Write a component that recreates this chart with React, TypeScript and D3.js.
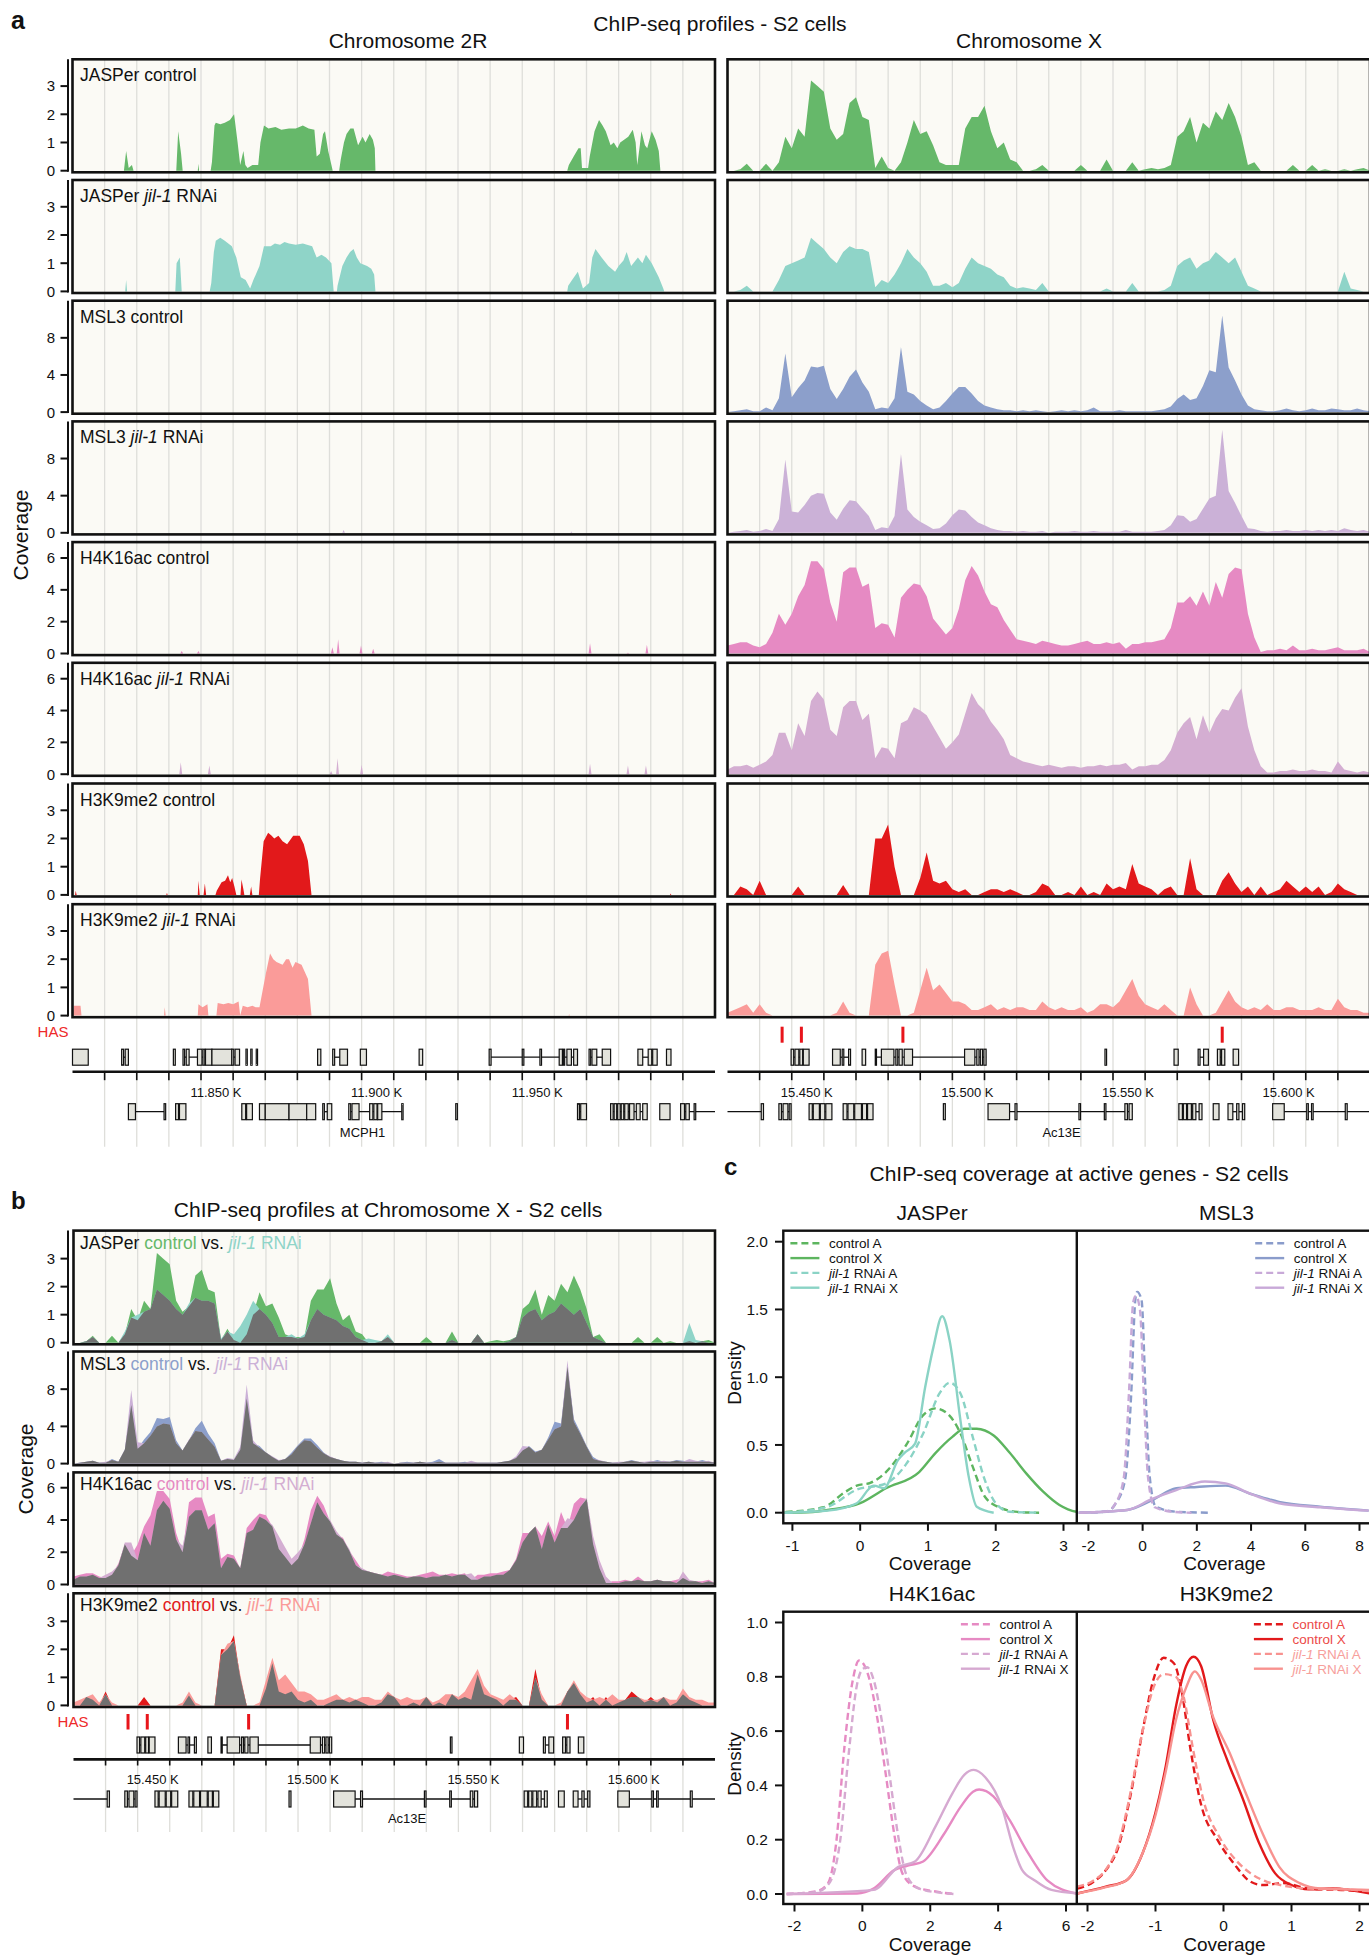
import React from 'react';
import * as d3 from 'd3';

const FONT = '"Liberation Sans", Arial, Helvetica, sans-serif';

// ---------------- genomic windows (kb) ----------------
const chr2RWindow = [11810, 12010];
const chrXWindow = [15430, 15630];
const chrXStep = 2;
const chr2RLabelTicks = [11850, 11900, 11950];
const chrXLabelTicks = [15450, 15500, 15550, 15600];
const hasSites = [15447, 15453, 15484.6, 15584];

const marks = ['JASPer', 'MSL3', 'H4K16ac', 'H3K9me2'];
const markMax = [3.95, 12, 7, 3.95];
const markTicks = [[0, 1, 2, 3], [0, 4, 8], [0, 2, 4, 6], [0, 1, 2, 3]];

// ---------------- chromosome 2R profiles: [kb, coverage] ----------------
const jasperCtrl2R = [[11810,0],[11826,0],[11826.7,0.7],[11827.5,0.1],[11828.5,0.2],[11829,0],
[11842.3,0],[11842.9,1.4],[11843.8,0.6],[11844.3,0],[11849,0],[11849.2,0.25],[11849.4,0],
[11853,0],[11853.4,0.3],[11854.2,1.6],[11854.6,1.7],[11856,1.65],[11857.4,1.7],[11859,1.8],[11860.3,2.0],[11861.4,1.0],[11862.2,0.2],[11863.2,0.7],[11863.8,0.2],[11864.5,0.1],[11866,0.2],[11867.8,0.2],[11868.5,1.0],[11869.6,1.6],[11871,1.5],[11873.2,1.55],[11875,1.45],[11877.4,1.5],[11879.5,1.5],[11881.7,1.6],[11883.5,1.5],[11885.3,1.45],[11886,0.5],[11887,0.6],[11888,1.3],[11888.6,1.4],[11889.6,0.7],[11890.6,0.2],[11891,0],
[11893,0],[11893.5,0.4],[11894.5,1.0],[11895.3,1.3],[11896.5,1.5],[11897.5,1.5],[11898.9,0.9],[11900.3,1.2],[11901.2,1.0],[11902.5,1.3],[11903.5,1.1],[11904.1,0.8],[11904.3,0],
[11964,0],[11964.5,0.2],[11966,0.5],[11967.5,0.8],[11968.2,0.8],[11968.6,0.1],[11970.5,0.1],[11971,0.5],[11972.5,1.4],[11973.9,1.8],[11975,1.6],[11976,1.4],[11977.5,0.9],[11978.5,1.0],[11979.6,0.8],[11980.5,1.0],[11981.7,1.1],[11983,1.2],[11984.4,1.45],[11985.3,1.0],[11985.8,0.2],[11986.6,0.9],[11987.1,1.4],[11988.2,0.9],[11988.9,0.8],[11990.3,1.4],[11991.5,1.1],[11992.5,0.7],[11993,0],[12010,0]];

const jasperRnai2R = [[11810,0],[11826.4,0],[11826.7,0.4],[11827,0],[11842,0],[11842.4,1.0],[11843.4,1.2],[11844,0],
[11852.7,0],[11853.2,0.3],[11854,1.4],[11854.6,1.8],[11856,1.9],[11857.4,1.8],[11858.5,1.7],[11859.6,1.6],[11861,1.2],[11862.4,0.5],[11863.9,0.4],[11865.3,0.1],[11866.3,0.4],[11868.2,0.9],[11869.6,1.6],[11871.7,1.6],[11873,1.7],[11874.6,1.65],[11876,1.75],[11877.4,1.7],[11879.5,1.65],[11881.7,1.7],[11883,1.65],[11884.6,1.6],[11886,1.2],[11887.5,1.3],[11888.9,1.2],[11890.6,1.0],[11891.3,0],
[11892.3,0],[11892.5,0.2],[11894,0.9],[11895.3,1.2],[11896.4,1.4],[11897.5,1.5],[11898.5,1.2],[11899.6,1.0],[11901.7,0.9],[11903,0.8],[11903.9,0.6],[11904.3,0],
[11964,0],[11964.3,0.2],[11965.5,0.4],[11967.3,0.7],[11968.9,0.1],[11970.8,0.3],[11971.8,1.2],[11972.8,1.5],[11974.7,1.2],[11976.8,0.9],[11978.9,0.7],[11980,0.9],[11981.5,1.1],[11982.5,1.4],[11983.9,0.9],[11986,1.2],[11987.4,1.0],[11988.5,1.3],[11990.3,1.0],[11992.5,0.5],[11993.9,0.1],[11994.2,0],[12010,0]];

const msl3Ctrl2R = [[11810,0],[12010,0]];
const msl3Rnai2R = [[11810,0],[11894,0],[11894.4,0.3],[11894.8,0],[11965,0],[11965.3,0.15],[11965.6,0],[12010,0]];

const h4CtrlSpikes2R = [[11844,0.15],[11849.2,0.15],[11890.9,0.4],[11892.7,0.9],[11899.8,0.5],[11903.6,0.3],[11971.1,0.65],[11982.9,0.05],[11988.8,0.55]];
const h4RnaiSpikes2R = [[11843.7,0.75],[11852.6,0.55],[11890.5,0.2],[11892.5,1.0],[11900,0.6],[11971.1,0.65],[11982.9,0.55],[11988.5,0.55]];

const h3Ctrl2R = [[11810,0],[11810.8,0],[11811,0.15],[11811.3,0],[11839.2,0],[11839.4,0.08],[11839.6,0],[11849,0],[11849.2,0.5],[11849.6,0],[11850.8,0],[11851.2,0.4],[11851.6,0],[11854.5,0],[11854.9,0.15],[11856.4,0.45],[11857.5,0.5],[11858.4,0.7],[11859.1,0.45],[11859.7,0.6],[11860.4,0.3],[11861,0],[11862.3,0],[11862.6,0.55],[11863.2,0.2],[11863.5,0],[11865.2,0],[11865.6,0.3],[11866,0],[11868,0],[11868.4,0.6],[11869.5,1.9],[11870.9,2.2],[11872,2.1],[11872.8,2.0],[11874.1,2.1],[11875.4,1.9],[11876.8,1.8],[11878.7,2.1],[11880.7,2.1],[11882,1.8],[11883.3,1.2],[11884.4,0],[11996,0],[11996.2,0.05],[11996.4,0],[12010,0]];

const h3Rnai2R = [[11810,0],[11810.4,0.35],[11812.5,0.35],[11812.8,0],[11838.5,0],[11838.7,0.3],[11839,0],[11849,0],[11849.2,0.4],[11850.5,0.3],[11852,0.4],[11852.3,0],[11854.8,0],[11855.2,0.45],[11857,0.4],[11858.5,0.45],[11860,0.4],[11861.7,0.5],[11862.2,0],[11863,0.35],[11864.5,0.3],[11866,0.35],[11867,0.3],[11868.2,0.3],[11869.2,0.9],[11870.2,1.5],[11871.5,2.2],[11872.5,2.0],[11873.5,1.9],[11875.4,1.8],[11876.5,2.0],[11877.4,2.0],[11878.5,1.7],[11879.4,1.9],[11881.3,1.8],[11883.3,1.3],[11884.4,0],[11964.4,0],[11964.6,0.05],[11964.8,0],[12010,0]];

// ---------------- chromosome X profiles: one value every 2 kb from 15430 ----------------
const jasperCtrlX = [0,0,0.05,0.25,0,0,0.25,0,0.3,1.2, 0.8,1.5,1.2,3.2,3.0,2.8,1.5,1.1,1.3,2.4, 2.6,1.9,1.8,0.1,0.5,0.1,0,0.3,1.0,1.8, 1.3,1.4,0.9,0.3,0.2,0.2,0.2,1.5,1.9,1.9, 2.3,1.4,0.8,1.0,0.4,0.3,0,0,0.05,0.2, 0,0,0,0,0,0.2,0,0,0,0.4, 0,0,0,0.3,0,0.05,0.1,0.05,0.1,0.2, 1.2,1.4,1.9,1.0,1.7,1.5,2.1,1.8,2.4,1.9, 1.2,0.2,0.3,0,0,0,0,0,0.2,0, 0,0.2,0,0.05,0,0,0.05,0,0.05,0.1, 0];
const jasperRnaiX = [0,0,0.05,0.2,0,0,0,0,0.4,0.9, 1.0,1.1,1.2,1.9,1.7,1.5,1.2,1.0,1.4,1.6, 1.5,1.5,1.4,0.15,0.4,0.3,0.6,1.0,1.5,1.2, 1.0,0.7,0.2,0.2,0.3,0.15,0.3,0.8,1.2,1.0, 0.9,0.8,0.6,0.5,0.2,0.1,0.15,0.1,0.05,0.3, 0,0,0,0,0,0,0,0,0,0.1, 0,0,0,0.3,0,0,0,0,0.05,0.2, 0.9,1.1,1.2,0.8,1.0,1.1,1.4,1.2,1.0,1.2, 0.7,0.2,0.1,0,0,0,0,0,0,0, 0,0,0,0,0,0,0.7,0.1,0.05,0, 0];
const msl3CtrlX = [0,0.1,0.2,0.3,0.1,0.1,0.5,0.2,1.5,6.3, 1.6,2.6,3.4,4.9,4.8,5.0,2.5,1.4,2.5,3.8, 4.6,3.2,2.2,0.3,0.5,0.4,1.5,7.0,2.2,1.9, 1.2,0.7,0.3,0.5,1.2,2.0,2.7,2.7,2.0,1.2, 0.7,0.5,0.3,0.2,0.2,0.1,0.2,0.1,0.2,0.1, 0,0.1,0.2,0.1,0.2,0.1,0.2,0.5,0.1,0.1, 0.1,0.2,0.1,0.1,0.1,0.1,0.1,0.2,0.3,0.6, 1.4,1.9,1.3,1.5,2.8,4.5,4.3,10.4,4.8,3.4, 1.9,0.7,0.3,0.2,0.1,0.1,0.2,0.4,0.2,0.1, 0.2,0.4,0.2,0.2,0.4,0.3,0.2,0.2,0.4,0.2, 0.1];
const msl3RnaiX = [0,0.1,0.2,0.3,0.1,0.2,0.4,0.2,1.5,7.9, 2.3,2.2,3.0,4.0,4.3,4.2,2.2,1.4,2.6,3.5, 3.4,2.6,1.8,0.3,0.6,0.5,1.8,8.5,2.5,1.7, 1.2,0.8,0.4,0.5,1.0,1.9,2.5,2.4,1.7,1.1, 0.8,0.5,0.3,0.2,0.2,0.1,0.2,0.1,0.1,0.2, 0,0.1,0.1,0.1,0.2,0.1,0.1,0.2,0.1,0.1, 0.1,0.1,0.3,0.1,0.1,0.1,0.1,0.2,0.3,0.8, 1.9,1.8,1.2,1.5,2.6,3.7,4.0,11.1,4.5,3.2, 1.8,0.5,0.4,0.2,0.1,0.2,0.2,0.3,0.2,0.2, 0.3,0.2,0.3,0.2,0.3,0.2,0.5,0.3,0.2,0.3, 0.1];
const h4CtrlX = [0.5,0.6,0.7,0.7,0.5,0.4,0.6,1.3,2.5,1.8, 2.5,3.6,4.3,5.8,5.8,5.3,3.2,2.0,5.1,5.4, 5.4,4.2,4.4,1.6,1.9,1.8,1.0,3.5,4.0,4.4, 4.3,3.6,2.2,1.7,1.2,1.6,2.8,4.6,5.5,4.9, 3.9,3.1,2.9,2.1,1.5,0.9,0.8,0.7,0.6,0.8, 0.7,0.6,0.5,0.5,0.6,0.7,0.8,0.6,0.6,0.7, 0.6,0.7,0.3,0.6,0.6,0.7,0.7,0.8,0.9,1.6, 3.2,3.2,3.6,3.0,3.9,3.0,4.5,3.5,5.0,5.4, 5.3,2.5,1.0,0.1,0.2,0.2,0.3,0.2,0.5,0.2, 0.2,0.3,0.2,0.2,0.3,0.4,0.2,0.2,0.2,0.3, 0.1];
const h4RnaiX = [0.3,0.5,0.5,0.6,0.4,0.6,0.8,1.2,2.6,2.6, 1.5,3.2,2.4,4.6,5.2,4.7,2.8,2.4,4.2,4.6, 4.6,3.4,3.8,1.0,1.7,1.6,1.0,3.2,3.4,4.2, 4.0,3.7,3.0,2.3,1.6,2.0,2.5,3.8,5.1,4.4, 4.0,3.3,2.8,2.2,1.2,1.0,0.8,0.7,0.6,0.5, 0.6,0.5,0.4,0.5,0.5,0.4,0.5,0.5,0.6,0.5, 0.6,0.6,0.7,0.3,0.5,0.5,0.6,0.6,0.9,1.5, 2.6,3.2,3.6,2.2,3.7,2.6,3.5,4.1,4.0,4.8, 5.4,3.0,1.5,0.5,0.1,0.1,0.2,0.2,0.3,0.2, 0.2,0.3,0.2,0.2,0.1,0.8,0.3,0.2,0.1,0.2, 0.1];
const h3CtrlX = [0,0,0.3,0.2,0,0.5,0,0,0,0, 0,0.3,0,0,0,0,0,0,0.35,0, 0,0,0,2.0,2.0,2.5,1.0,0,0,0, 0.6,1.5,0.5,0.4,0.5,0.2,0.1,0.2,0,0, 0.1,0.2,0.2,0.1,0.2,0.1,0,0,0.1,0.4, 0.3,0,0,0.1,0,0.3,0,0.1,0,0.4, 0.2,0.3,0.2,1.1,0.4,0.3,0.2,0,0.2,0.3, 0,0,1.3,0.2,0,0,0,0.5,0.8,0.4, 0.1,0.3,0,0.3,0,0.1,0.2,0.5,0.3,0.1, 0.3,0.1,0.3,0,0.1,0.4,0.2,0.1,0,0, 0];
const h3RnaiX = [0.1,0.2,0.3,0.4,0.1,0.4,0.1,0,0,0, 0,0,0,0,0,0,0,0.1,0.5,0.1, 0,0,0,1.8,2.2,2.3,1.1,0,0,0.1, 0.9,1.7,0.9,1.1,0.8,0.5,0.5,0.4,0.2,0.2, 0.3,0.4,0.2,0.3,0.2,0.3,0.3,0.2,0.2,0.5, 0.3,0.2,0.3,0.2,0.2,0.3,0.1,0.2,0.4,0.4, 0.3,0.5,0.9,1.3,0.7,0.4,0.3,0.2,0.4,0.2, 0,0,1.0,0.4,0,0,0.1,0.5,0.9,0.5, 0.3,0.2,0.3,0.2,0.4,0.2,0.2,0.3,0.3,0.2, 0.2,0.2,0.3,0.2,0.2,0.6,0.3,0.2,0.2,0.1, 0.1];

// ---------------- gene models: [row, [[exonStart, exonEnd], ...]] (kb) ----------------
const chr2RGenes = [
  [0, [[11810, 11814.9]]],
  [0, [[11825.3, 11825.9], [11826.4, 11827.4]]],
  [0, [[11841.4, 11842]]],
  [0, [[11844.4, 11844.9], [11845.4, 11846.3], [11848.9, 11850.3], [11850.6, 11851.2], [11851.4, 11853.4], [11853.4, 11859.6], [11859.6, 11860.2], [11860.6, 11862]]],
  [0, [[11864.0, 11864.4]]],
  [0, [[11865.5, 11865.9]]],
  [0, [[11867.2, 11867.6]]],
  [0, [[11886.3, 11887.3]]],
  [0, [[11891, 11891.6], [11893.2, 11895.6]]],
  [0, [[11899.6, 11901.5]]],
  [0, [[11917.9, 11919]]],
  [0, [[11939.7, 11940.3], [11950, 11950.5], [11955.5, 11956], [11961.5, 11962.5], [11962.8, 11963.2], [11963.9, 11965.3], [11966, 11967.2]]],
  [0, [[11970.8, 11971.3], [11971.7, 11973.2], [11974.9, 11977.5]]],
  [0, [[11986, 11987.5], [11989.2, 11990.3], [11990.6, 11992]]],
  [0, [[11994.9, 11996.3]]],
  [1, [[11827.4, 11829.6], [11838.5, 11839.0]]],
  [1, [[11842.1, 11843], [11843.3, 11845.3]]],
  [1, [[11862.7, 11863.9], [11864.2, 11866]]],
  [1, [[11868.2, 11870], [11870, 11877.4], [11877.4, 11882.9], [11882.9, 11885.7]]],
  [1, [[11887.9, 11888.4], [11889.3, 11890.7]]],
  [1, [[11896, 11896.6], [11897, 11899.2], [11902.5, 11903.5], [11903.8, 11904.8], [11905, 11906.3], [11912.5, 11912.9]]],
  [1, [[11929.3, 11929.8]]],
  [1, [[11967.2, 11967.8], [11968.2, 11970]]],
  [1, [[11977.5, 11978.3], [11978.6, 11979.4], [11979.7, 11980.5], [11980.8, 11981.6], [11981.9, 11983], [11983.4, 11984.8], [11985.5, 11986.7], [11987.5, 11988.9]]],
  [1, [[11992.8, 11996]]],
  [1, [[11999.3, 12000.5], [12000.9, 12002], [12003.5, 12004], [12010, 12010]]],
];
const chrXGenes = [
  [0, [[15449.8, 15450.6], [15451, 15452.2], [15452.5, 15453.4], [15453.6, 15455.4]]],
  [0, [[15462.7, 15465.1], [15465.7, 15466.2], [15467.7, 15468.3]]],
  [0, [[15471.9, 15473]]],
  [0, [[15476, 15476.3], [15477.9, 15481.8], [15482.4, 15483], [15483.4, 15484.4], [15485, 15487.6], [15503.8, 15507], [15507.6, 15508.3], [15508.7, 15509.4], [15509.8, 15510.5]]],
  [0, [[15547.5, 15548]]],
  [0, [[15569, 15570.3]]],
  [0, [[15576.5, 15577.1], [15578.2, 15579.7]]],
  [0, [[15582.5, 15583.4], [15583.8, 15584.8]]],
  [0, [[15587.4, 15589.1]]],
  [1, [[15430, 15430], [15440.5, 15441.2]]],
  [1, [[15446, 15446.8], [15447.3, 15448.8], [15449.2, 15449.8]]],
  [1, [[15455.4, 15456.4], [15456.7, 15458.6], [15458.9, 15460.3], [15460.6, 15462.5]]],
  [1, [[15466, 15467.2], [15467.5, 15469.3], [15469.6, 15471.7], [15472, 15473.3], [15473.6, 15475.3]]],
  [1, [[15497.2, 15497.8]]],
  [1, [[15511.1, 15517.8], [15519.5, 15520.1], [15539.4, 15539.9], [15547.3, 15547.8], [15553.7, 15554.5], [15555, 15556]]],
  [1, [[15570.5, 15571.6], [15571.9, 15572.9], [15573.2, 15574.4], [15574.8, 15575.8], [15576.8, 15577.7]]],
  [1, [[15581.2, 15583]]],
  [1, [[15585.8, 15587.3], [15588.5, 15589.2], [15590.3, 15591]]],
  [1, [[15599.7, 15603.3], [15610.3, 15610.8], [15611.8, 15612.3], [15622.3, 15622.9], [15630, 15630]]],
];
const chr2RGeneLabels = [['MCPH1', 11900.3]];
const chrXGeneLabels = [['Ac13E', 15534]];

// ---------------- panel c density curves: [coverage, density] ----------------
const jasperCtrlA = [[-1.1,0.005],[-0.54,0.04],[-0.23,0.15],[-0.05,0.2],[0.15,0.22],[0.38,0.3],[0.68,0.5],[0.93,0.72],[1.11,0.77],[1.29,0.73],[1.48,0.585],[1.66,0.34],[1.84,0.118],[2.09,0.032],[2.35,0.005],[2.64,0]];
const jasperCtrlXd = [[-1.12,0],[-0.7,0.005],[-0.48,0.02],[0,0.07],[0.38,0.18],[0.87,0.3],[1.11,0.44],[1.36,0.56],[1.54,0.62],[1.72,0.62],[1.97,0.57],[2.21,0.44],[2.45,0.29],[2.7,0.155],[2.94,0.057],[3.19,0.007],[3.3,0.002]];
const jasperRnaiA = [[-1.1,0],[-0.48,0.044],[-0.05,0.17],[0.38,0.216],[0.68,0.36],[0.93,0.585],[1.17,0.88],[1.32,0.96],[1.48,0.88],[1.66,0.56],[1.84,0.24],[2.0,0.07],[2.21,0.007],[2.64,0]];
const jasperRnaiXd = [[-1.12,0],[-0.48,0.015],[-0.05,0.07],[0.2,0.2],[0.35,0.18],[0.56,0.39],[0.65,0.44],[0.81,0.51],[0.96,0.93],[1.08,1.22],[1.21,1.45],[1.32,1.27],[1.48,0.68],[1.6,0.27],[1.72,0.044],[1.97,0]];
const msl3CtrlA = [[-2.32,0],[-1.33,0.007],[-1.03,0.057],[-0.65,0.24],[-0.42,0.88],[-0.27,1.57],[-0.2,1.63],[-0.04,1.57],[0.11,0.88],[0.26,0.27],[0.49,0.044],[1.24,0.007],[2.46,0]];
const msl3RnaiA = [[-2.32,0],[-1.33,0.01],[-1.03,0.06],[-0.7,0.25],[-0.5,0.9],[-0.35,1.55],[-0.25,1.6],[-0.1,1.5],[0.05,0.85],[0.2,0.26],[0.45,0.04],[1.2,0.005],[1.8,0]];
const msl3CtrlXd = [[-2.36,0],[-0.57,0.02],[0.33,0.09],[1.24,0.18],[2.0,0.19],[3.06,0.2],[3.97,0.14],[5.03,0.08],[6.55,0.044],[8.34,0.015]];
const msl3RnaiXd = [[-2.36,0],[-0.57,0.02],[0.33,0.1],[1.24,0.167],[2.3,0.23],[3.06,0.216],[3.97,0.14],[5.03,0.07],[6.55,0.04],[8.34,0.015]];
const h4CtrlA = [[-2.23,0],[-1.38,0.009],[-1.01,0.04],[-0.77,0.19],[-0.53,0.54],[-0.28,0.79],[-0.1,0.86],[0.02,0.85],[0.21,0.79],[0.45,0.64],[0.69,0.44],[0.94,0.22],[1.18,0.076],[1.55,0.027],[2.16,0.009],[2.71,0]];
const h4RnaiA = [[-2.23,0],[-1.32,0.009],[-0.95,0.045],[-0.65,0.2],[-0.4,0.52],[-0.16,0.77],[0.02,0.83],[0.14,0.835],[0.33,0.79],[0.57,0.64],[0.81,0.43],[1.06,0.21],[1.3,0.07],[1.67,0.02],[2.28,0.005],[2.71,0]];
const h4CtrlXd = [[-2.23,0],[-0.16,0.002],[0.33,0.02],[0.94,0.088],[1.43,0.107],[1.79,0.12],[2.4,0.22],[2.89,0.32],[3.26,0.377],[3.44,0.385],[3.86,0.36],[4.35,0.27],[4.84,0.16],[5.45,0.05],[6.3,0.002]];
const h4RnaiXd = [[-2.23,0],[0.33,0.015],[1.06,0.1],[1.55,0.12],[2.16,0.25],[2.65,0.37],[3.01,0.44],[3.28,0.457],[3.62,0.43],[4.11,0.32],[4.45,0.17],[4.7,0.09],[5.08,0.05],[5.57,0.015],[6.3,0.003]];
const h3CtrlA = [[-2.15,0.02],[-1.91,0.045],[-1.73,0.088],[-1.55,0.17],[-1.37,0.36],[-1.19,0.6],[-1.03,0.79],[-0.88,0.87],[-0.73,0.85],[-0.61,0.74],[-0.49,0.54],[-0.33,0.33],[-0.09,0.2],[0.15,0.113],[0.4,0.045],[0.58,0.033],[0.88,0.04],[1.25,0.02],[1.73,0.015],[2.15,0.009]];
const h3RnaiA = [[-2.15,0.027],[-1.91,0.05],[-1.73,0.09],[-1.55,0.18],[-1.37,0.37],[-1.19,0.6],[-1.03,0.76],[-0.88,0.81],[-0.7,0.8],[-0.58,0.72],[-0.46,0.55],[-0.3,0.35],[-0.06,0.21],[0.2,0.12],[0.4,0.076],[0.64,0.045],[0.9,0.03],[1.25,0.02],[1.73,0.018],[2.15,0.01]];
const h3CtrlXd = [[-2.15,0.002],[-1.73,0.027],[-1.43,0.05],[-1.19,0.15],[-1.0,0.3],[-0.85,0.47],[-0.7,0.69],[-0.55,0.84],[-0.44,0.874],[-0.33,0.84],[-0.15,0.64],[0.06,0.49],[0.27,0.36],[0.52,0.19],[0.76,0.076],[1.0,0.033],[1.25,0.017],[1.61,0.02],[2.15,0.002]];
const h3RnaiXd = [[-2.15,0.002],[-1.73,0.025],[-1.43,0.05],[-1.19,0.15],[-1.0,0.29],[-0.85,0.45],[-0.7,0.64],[-0.55,0.76],[-0.42,0.82],[-0.33,0.79],[-0.15,0.65],[0.09,0.52],[0.33,0.37],[0.58,0.22],[0.82,0.1],[1.12,0.04],[1.43,0.02],[2.15,0.015]];

// ---------------- styles ----------------
const COL = {
  ctrl: ['#66b86a', '#8c9fcb', '#e68ac3', '#e2191b'],
  rnai: ['#8fd4c8', '#cbb1d7', '#d4aed2', '#fa9b99'],
};
const BG = '#fbfaf5';
const GRID = '#dededa';
const GRAY = '#707070';
const INK = '#111';

const spikes = (list) => {
  const out = [[chr2RWindow[0], 0]];
  list.forEach(([k, h]) => { out.push([k - 0.45, 0], [k, h], [k + 0.45, 0]); });
  out.push([chr2RWindow[1], 0]);
  return out;
};
const toPairs = (vals) => vals.map((v, i) => [chrXWindow[0] + i * chrXStep, v]);
const minPairs = (a, b) => a.map((v, i) => Math.min(v, b[i]));

const chr2RTracks = [[jasperCtrl2R, jasperRnai2R], [msl3Ctrl2R, msl3Rnai2R], [spikes(h4CtrlSpikes2R), spikes(h4RnaiSpikes2R)], [h3Ctrl2R, h3Rnai2R]];
const chrXRaw = [[jasperCtrlX, jasperRnaiX], [msl3CtrlX, msl3RnaiX], [h4CtrlX, h4RnaiX], [h3CtrlX, h3RnaiX]];

// layout
const A_LEFT = [72.5, 715];
const A_RIGHT = [727.5, 1370];
const A_TOP0 = 59.3, A_PITCH = 120.7, A_H = 113;
const B_X = [73.5, 715];
const B_TOP0 = 1230.6, B_PITCH = 120.9, B_H = 113.7;

function Panel({ id, xr, top, h, domain, ymax, series, axisTicks, label }) {
  const x = d3.scaleLinear().domain(domain).range(xr);
  const base = top + h - 1.6;
  const y = d3.scaleLinear().domain([0, ymax]).range([base, top]);
  const area = d3.area().x((d) => x(d[0])).y0(base).y1((d) => y(d[1]));
  const grid = d3.range(domain[0] + 10, domain[1] - 0.01, 10);
  return (
    <g>
      <defs>
        <clipPath id={id}><rect x={xr[0]} y={top} width={xr[1] - xr[0]} height={h} /></clipPath>
      </defs>
      <rect x={xr[0]} y={top} width={xr[1] - xr[0]} height={h} fill={BG} />
      {grid.map((g) => <line key={g} x1={x(g)} x2={x(g)} y1={top} y2={top + h} stroke={GRID} strokeWidth={1.3} />)}
      <g clipPath={`url(#${id})`}>
        {series.map((s, i) => <path key={i} d={area(s.data)} fill={s.color} />)}
      </g>
      <rect x={xr[0]} y={top} width={xr[1] - xr[0]} height={h} fill="none" stroke={INK} strokeWidth={2.6} />
      {axisTicks && (
        <g>
          <line x1={68} x2={68} y1={top} y2={base + 1} stroke={INK} strokeWidth={2} />
          {axisTicks.map((t) => (
            <g key={t}>
              <line x1={60.5} x2={68} y1={y(t)} y2={y(t)} stroke={INK} strokeWidth={2} />
              <text x={55} y={y(t)} dy="0.36em" textAnchor="end" fontSize={15}>{t}</text>
            </g>
          ))}
        </g>
      )}
      {label}
    </g>
  );
}

function GeneTrack({ xr, domain, bottom, o, genes, labelTicks, geneLabels, has, hasLabelX }) {
  const x = d3.scaleLinear().domain(domain).range(xr);
  const ticks = d3.range(domain[0] + 10, domain[1] - 0.01, 10);
  return (
    <g>
      {has && has.map((k) => (
        <rect key={k} x={x(k) - 1.5} y={bottom + o.has0} width={3} height={o.has1 - o.has0} fill="#e8151b" />
      ))}
      {hasLabelX !== undefined && (
        <text x={hasLabelX} y={bottom + o.hasText} textAnchor="middle" fontSize={15} fill="#ee2a2a">HAS</text>
      )}
      {genes.map(([row, exons], i) => {
        const cy = bottom + (row === 0 ? o.row0 : o.row1);
        const s = exons[0][0];
        const e = exons[exons.length - 1][1];
        return (
          <g key={i}>
            {exons.length > 1 && <line x1={x(s)} x2={x(e)} y1={cy} y2={cy} stroke={INK} strokeWidth={1.3} />}
            {exons.filter((ex) => ex[1] > ex[0]).map((ex, j) => (
              <rect key={j} x={x(ex[0])} y={cy - 8} width={Math.max(x(ex[1]) - x(ex[0]), 1.2)} height={16}
                fill="#e3e3dc" stroke={INK} strokeWidth={1.2} />
            ))}
          </g>
        );
      })}
      <line x1={xr[0]} x2={xr[1]} y1={bottom + o.axis} y2={bottom + o.axis} stroke={INK} strokeWidth={2.6} />
      {ticks.map((t) => (
        <line key={t} x1={x(t)} x2={x(t)} y1={bottom + o.axis} y2={bottom + o.tickEnd} stroke={INK} strokeWidth={1.6} />
      ))}
      {labelTicks.map((t) => (
        <text key={t} x={x(t) + 15} y={bottom + o.label} textAnchor="middle" fontSize={13}>{(t / 1000).toFixed(3) + ' K'}</text>
      ))}
      {geneLabels.map(([name, k]) => (
        <text key={name} x={x(k)} y={bottom + o.gene} textAnchor="middle" fontSize={13}>{name}</text>
      ))}
    </g>
  );
}

function Gridlines({ xr, domain, y0, y1 }) {
  const x = d3.scaleLinear().domain(domain).range(xr);
  const grid = d3.range(domain[0] + 10, domain[1] - 0.01, 10);
  return <g>{grid.map((g) => <line key={g} x1={x(g)} x2={x(g)} y1={y0} y2={y1} stroke={GRID} strokeWidth={1.3} />)}</g>;
}

const Jil = () => <tspan fontStyle="italic">jil-1</tspan>;

function DensityPanel({ id, box, xs, ys, xticks, yticks, yfmt, curves, colors, legendX, legendY, legendTextColors, leftAxis, title, xlabelY, tickLabelY }) {
  const line = d3.line().x((d) => xs(d[0])).y((d) => ys(d[1])).curve(d3.curveMonotoneX);
  const names = [['control A'], ['control X'], ['jil', ' RNAi A'], ['jil', ' RNAi X']];
  const cx = (box[0] + box[1]) / 2;
  return (
    <g>
      <defs><clipPath id={id}><rect x={box[0]} y={box[2]} width={box[1] - box[0]} height={box[3] - box[2]} /></clipPath></defs>
      <text x={cx + 2} y={box[2] - 11} textAnchor="middle" fontSize={21}>{title}</text>
      <g clipPath={`url(#${id})`}>
        {curves.map((c, i) => (
          <path key={i} d={line(c)} fill="none" stroke={i < 2 ? colors[0] : colors[1]} strokeWidth={2.4}
            strokeDasharray={i % 2 === 0 ? '7,4' : null} />
        ))}
      </g>
      {xticks.map((t) => (
        <g key={t}>
          <line x1={xs(t)} x2={xs(t)} y1={box[3]} y2={box[3] + 7.5} stroke={INK} strokeWidth={2} />
          <text x={xs(t)} y={tickLabelY} textAnchor="middle" fontSize={15.5}>{t}</text>
        </g>
      ))}
      <text x={cx} y={xlabelY} textAnchor="middle" fontSize={19}>Coverage</text>
      {leftAxis && yticks.map((t) => (
        <g key={t}>
          <line x1={775} x2={box[0]} y1={ys(t)} y2={ys(t)} stroke={INK} strokeWidth={2} />
          <text x={768} y={ys(t)} dy="0.36em" textAnchor="end" fontSize={15.5}>{d3.format(yfmt)(t)}</text>
        </g>
      ))}
      {names.map((n, i) => {
        const yy = legendY + i * 14.8;
        const tc = legendTextColors ? legendTextColors[i < 2 ? 0 : 1] : INK;
        return (
          <g key={i}>
            <line x1={legendX} x2={legendX + 29} y1={yy} y2={yy} stroke={i < 2 ? colors[0] : colors[1]} strokeWidth={2.4}
              strokeDasharray={i % 2 === 0 ? '7,4' : null} />
            <text x={legendX + 38.5} y={yy} dy="0.36em" fontSize={13.5} fill={tc}>
              {n.length === 1 ? n[0] : (<><Jil />{n[1]}</>)}
            </text>
          </g>
        );
      })}
    </g>
  );
}

export default function App() {
  const aBottom = A_TOP0 + 7 * A_PITCH + A_H;
  const bBottom = B_TOP0 + 3 * B_PITCH + B_H;
  const oA = { has0: 9.5, has1: 25.5, hasText: 20, row0: 40, axis: 54.5, tickEnd: 63, label: 79.5, row1: 94.5, gene: 119.5 };
  const oB = { has0: 7, has1: 22.5, hasText: 19.5, row0: 38, axis: 52.4, tickEnd: 58.5, label: 76.5, row1: 92, gene: 116 };

  const aPanels = [];
  for (let m = 0; m < 4; m++) {
    for (let c = 0; c < 2; c++) {
      const k = 2 * m + c;
      const top = A_TOP0 + k * A_PITCH;
      const color = c === 0 ? COL.ctrl[m] : COL.rnai[m];
      const label = (
        <text x={80} y={top + 22} fontSize={17.5}>
          {marks[m] + ' '}
          {c === 0 ? 'control' : (<><Jil /> RNAi</>)}
        </text>
      );
      aPanels.push(
        <Panel key={`l${k}`} id={`cl${k}`} xr={A_LEFT} top={top} h={A_H} domain={chr2RWindow} ymax={markMax[m]}
          series={[{ data: chr2RTracks[m][c], color }]} axisTicks={markTicks[m]} label={label} />
      );
      aPanels.push(
        <Panel key={`r${k}`} id={`cr${k}`} xr={A_RIGHT} top={top} h={A_H} domain={chrXWindow} ymax={markMax[m]}
          series={[{ data: toPairs(chrXRaw[m][c]), color }]} />
      );
    }
  }

  const bPanels = [];
  for (let m = 0; m < 4; m++) {
    const top = B_TOP0 + m * B_PITCH;
    const ctrl = chrXRaw[m][0];
    const rnai = chrXRaw[m][1];
    const label = (
      <text x={80} y={top + 18} fontSize={17.5}>
        {marks[m] + ' '}
        <tspan fill={COL.ctrl[m]}>control</tspan>
        {' vs. '}
        <tspan fill={COL.rnai[m]}><tspan fontStyle="italic">jil-1</tspan> RNAi</tspan>
      </text>
    );
    bPanels.push(
      <Panel key={`b${m}`} id={`cb${m}`} xr={B_X} top={top} h={B_H} domain={chrXWindow} ymax={m === 2 ? 6.95 : markMax[m] === 3.95 ? 4.0 : 12.05}
        series={[
          { data: toPairs(ctrl), color: COL.ctrl[m] },
          { data: toPairs(rnai), color: COL.rnai[m] },
          { data: toPairs(minPairs(ctrl, rnai)), color: GRAY },
        ]}
        axisTicks={markTicks[m]} label={label} />
    );
  }

  const topBox = [783.3, 1372, 1230.7, 1523.3];
  const botBox = [783.3, 1372, 1611.7, 1904];
  const div = 1076.8;

  return (
    <svg width={1369} height={1957} style={{ position: 'absolute', left: 0, top: 0, background: '#fff' }}
      fontFamily={FONT} fill={INK}>
      {/* ---------- panel a ---------- */}
      <text x={11} y={29} fontSize={25} fontWeight="bold">a</text>
      <text x={720} y={31} textAnchor="middle" fontSize={21}>ChIP-seq profiles - S2 cells</text>
      <text x={408} y={47.5} textAnchor="middle" fontSize={21}>Chromosome 2R</text>
      <text x={1029} y={47.5} textAnchor="middle" fontSize={21}>Chromosome X</text>
      <text transform="translate(28,535) rotate(-90)" textAnchor="middle" fontSize={21}>Coverage</text>
      <Gridlines xr={A_LEFT} domain={chr2RWindow} y0={A_TOP0} y1={aBottom + 129.5} />
      <Gridlines xr={A_RIGHT} domain={chrXWindow} y0={A_TOP0} y1={aBottom + 129.5} />
      {aPanels}
      <GeneTrack xr={A_LEFT} domain={chr2RWindow} bottom={aBottom} o={oA} genes={chr2RGenes}
        labelTicks={chr2RLabelTicks} geneLabels={chr2RGeneLabels} hasLabelX={53} />
      <GeneTrack xr={A_RIGHT} domain={chrXWindow} bottom={aBottom} o={oA} genes={chrXGenes}
        labelTicks={chrXLabelTicks} geneLabels={chrXGeneLabels} has={hasSites} />

      {/* ---------- panel b ---------- */}
      <text x={11} y={1209} fontSize={24} fontWeight="bold">b</text>
      <text x={388} y={1217} textAnchor="middle" fontSize={21}>ChIP-seq profiles at Chromosome X - S2 cells</text>
      <text transform="translate(33,1469) rotate(-90)" textAnchor="middle" fontSize={21}>Coverage</text>
      <Gridlines xr={B_X} domain={chrXWindow} y0={B_TOP0} y1={bBottom + 125} />
      {bPanels}
      <GeneTrack xr={B_X} domain={chrXWindow} bottom={bBottom} o={oB} genes={chrXGenes}
        labelTicks={chrXLabelTicks} geneLabels={chrXGeneLabels} has={hasSites} hasLabelX={73} />

      {/* ---------- panel c ---------- */}
      <text x={724} y={1175} fontSize={24} fontWeight="bold">c</text>
      <text x={1079} y={1181} textAnchor="middle" fontSize={21}>ChIP-seq coverage at active genes - S2 cells</text>
      <text transform="translate(741,1373) rotate(-90)" textAnchor="middle" fontSize={19}>Density</text>
      <text transform="translate(741,1764) rotate(-90)" textAnchor="middle" fontSize={19}>Density</text>

      <DensityPanel id="dj" box={[topBox[0], div, topBox[2], topBox[3]]} title="JASPer"
        xs={d3.scaleLinear().domain([-1, 3]).range([792.4, 1063.5])}
        ys={d3.scaleLinear().domain([0, 2]).range([1512.7, 1241.7])}
        xticks={[-1, 0, 1, 2, 3]} yticks={[0, 0.5, 1, 1.5, 2]} yfmt=".1f" leftAxis
        curves={[jasperCtrlA, jasperCtrlXd, jasperRnaiA, jasperRnaiXd]} colors={['#5db55f', '#8ad3c5']}
        legendX={790.4} legendY={1243.3} tickLabelY={1550.5} xlabelY={1570} />
      <DensityPanel id="dm" box={[div, topBox[1], topBox[2], topBox[3]]} title="MSL3"
        xs={d3.scaleLinear().domain([-2, 8]).range([1088.4, 1359.5])}
        ys={d3.scaleLinear().domain([0, 2]).range([1512.7, 1241.7])}
        xticks={[-2, 0, 2, 4, 6, 8]} yticks={[]} yfmt=".1f"
        curves={[msl3CtrlA, msl3CtrlXd, msl3RnaiA, msl3RnaiXd]} colors={['#8a9ccb', '#c8a9d8']}
        legendX={1255.2} legendY={1243.3} tickLabelY={1550.5} xlabelY={1570} />
      <rect x={topBox[0]} y={topBox[2]} width={topBox[1] - topBox[0]} height={topBox[3] - topBox[2]} fill="none" stroke={INK} strokeWidth={2.4} />
      <line x1={div} x2={div} y1={topBox[2]} y2={topBox[3]} stroke={INK} strokeWidth={2.4} />

      <DensityPanel id="dh4" box={[botBox[0], div, botBox[2], botBox[3]]} title="H4K16ac"
        xs={d3.scaleLinear().domain([-2, 6]).range([794.5, 1066])}
        ys={d3.scaleLinear().domain([0, 1]).range([1894, 1622.5])}
        xticks={[-2, 0, 2, 4, 6]} yticks={[0, 0.2, 0.4, 0.6, 0.8, 1]} yfmt=".1f" leftAxis
        curves={[h4CtrlA, h4CtrlXd, h4RnaiA, h4RnaiXd]} colors={['#e68ac3', '#d6a9d1']}
        legendX={960.9} legendY={1624.3} tickLabelY={1931} xlabelY={1951} />
      <DensityPanel id="dh3" box={[div, botBox[1], botBox[2], botBox[3]]} title="H3K9me2"
        xs={d3.scaleLinear().domain([-2, 2]).range([1087.5, 1359.5])}
        ys={d3.scaleLinear().domain([0, 1]).range([1894, 1622.5])}
        xticks={[-2, -1, 0, 1, 2]} yticks={[]} yfmt=".1f"
        curves={[h3CtrlA, h3CtrlXd, h3RnaiA, h3RnaiXd]} colors={['#e2191b', '#f8928f']}
        legendTextColors={['#ec4a48', '#f7a09c']}
        legendX={1253.9} legendY={1624.3} tickLabelY={1931} xlabelY={1951} />
      <rect x={botBox[0]} y={botBox[2]} width={botBox[1] - botBox[0]} height={botBox[3] - botBox[2]} fill="none" stroke={INK} strokeWidth={2.4} />
      <line x1={div} x2={div} y1={botBox[2]} y2={botBox[3]} stroke={INK} strokeWidth={2.4} />
    </svg>
  );
}
